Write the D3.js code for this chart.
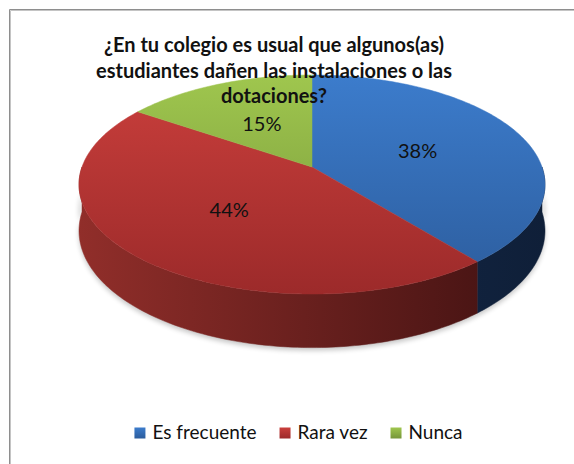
<!DOCTYPE html>
<html>
<head>
<meta charset="utf-8">
<script src="https://cdn.jsdelivr.net/npm/d3@7/dist/d3.min.js"></script>
<style>
  html, body { margin: 0; padding: 0; background: #ffffff; }
  svg { display: block; }
</style>
</head>
<body>
<svg id="chart" width="574" height="464"></svg>
<script>
// Survey answers (percent of students)
const categories = ["Es frecuente", "Rara vez", "Nunca"];
const values = [38, 44, 15];
const titleLines = [
  "¿En tu colegio es usual que algunos(as)",
  "estudiantes dañen las instalaciones o las",
  "dotaciones?"
];

// Colour palette per slice: top face (light, dark), side wall (left, right)
const topColors  = [["#3c7ccc", "#2c5c9c"], ["#ca3f3c", "#9c2a2a"], ["#9fc64e", "#76963a"]];
const sideColors = [["#183058", "#0f1f38"], ["#912e2a", "#3f1111"], ["#6f8a2f", "#4f6420"]];

const svg = d3.select("#chart");
const FONT = "Lato, 'Open Sans', sans-serif";

// Chart frame (only top and left edges fall inside the view)
svg.append("path")
  .attr("d", "M9.5,470V9.5H580")
  .attr("fill", "none").attr("stroke", "#8e8e8e").attr("stroke-width", 1);
svg.append("path")
  .attr("d", "M10.5,470V10.5H580")
  .attr("fill", "none").attr("stroke", "#c4c4c4").attr("stroke-width", 1);

// Perspective view of a tilted disc: unit-disc point -> screen
const cx = 312, cy = 167, A = 230, B = 106.7, k = 0.16, depth = 45;
function proj(theta, r, drop) {
  const X = r * Math.sin(theta), Z = r * Math.cos(theta);
  const w = 1 + k * Z;
  return [cx + A * X / w, cy - B * Z / w + (drop || 0) / w];
}

const pie = d3.pie().sort(null).value(d => d)
  .startAngle(0).endAngle(2 * Math.PI);
const arcs = pie(values);

const defs = svg.append("defs");

// gradients
arcs.forEach((a, i) => {
  const gt = defs.append("linearGradient").attr("id", "top" + i)
    .attr("gradientUnits", "userSpaceOnUse")
    .attr("x1", 0).attr("y1", 75).attr("x2", 0).attr("y2", 295);
  gt.append("stop").attr("offset", 0).attr("stop-color", topColors[i][0]);
  gt.append("stop").attr("offset", 1).attr("stop-color", topColors[i][1]);

  const gs = defs.append("linearGradient").attr("id", "side" + i)
    .attr("gradientUnits", "userSpaceOnUse")
    .attr("x1", 78).attr("y1", 0).attr("x2", 546).attr("y2", 0);
  gs.append("stop").attr("offset", 0).attr("stop-color", sideColors[i][0]);
  gs.append("stop").attr("offset", 1).attr("stop-color", sideColors[i][1]);

  const gl = defs.append("linearGradient").attr("id", "leg" + i)
    .attr("x1", 0).attr("y1", 0).attr("x2", 0).attr("y2", 1);
  gl.append("stop").attr("offset", 0).attr("stop-color", topColors[i][0]);
  gl.append("stop").attr("offset", 1).attr("stop-color", topColors[i][1]);
});

const blur = defs.append("filter").attr("id", "soft")
  .attr("x", "-10%").attr("y", "-10%").attr("width", "120%").attr("height", "130%");
blur.append("feGaussianBlur").attr("stdDeviation", 2.5);

function sampleAngles(a0, a1) {
  const n = Math.max(2, Math.ceil((a1 - a0) / (Math.PI / 180)));
  return d3.range(n + 1).map(j => a0 + (a1 - a0) * j / n);
}

// soft shadow under the disc
const shadowPts = sampleAngles(Math.PI / 2, 3 * Math.PI / 2).map(t => {
  const p = proj(t, 1, depth);
  return [p[0], p[1] + 3];
});
const shadowTop = sampleAngles(Math.PI / 2, 3 * Math.PI / 2).reverse().map(t => proj(t, 1, depth - 20));
svg.append("path")
  .attr("d", d3.line()(shadowPts.concat(shadowTop)) + "Z")
  .attr("fill", "#000").attr("opacity", 0.22)
  .attr("filter", "url(#soft)");

// side walls (front half only)
const g = svg.append("g");
arcs.forEach((a, i) => {
  const lo = Math.max(a.startAngle, Math.PI / 2);
  const hi = Math.min(a.endAngle, 3 * Math.PI / 2);
  if (hi <= lo) return;
  const ts = sampleAngles(lo, hi);
  const top = ts.map(t => proj(t, 1, 0));
  const bot = ts.slice().reverse().map(t => proj(t, 1, depth));
  g.append("path")
    .attr("d", d3.line()(top.concat(bot)) + "Z")
    .attr("fill", `url(#side${i})`)
    .attr("stroke", `url(#side${i})`).attr("stroke-width", 0.5);
});

// top faces
arcs.forEach((a, i) => {
  const pts = [proj(0, 0, 0)].concat(sampleAngles(a.startAngle, a.endAngle).map(t => proj(t, 1, 0)));
  g.append("path")
    .attr("d", d3.line()(pts) + "Z")
    .attr("fill", `url(#top${i})`)
    .attr("stroke", `url(#top${i})`).attr("stroke-width", 0.5);
});

// value labels
arcs.forEach((a, i) => {
  const p = proj((a.startAngle + a.endAngle) / 2, 0.5, 0);
  svg.append("text")
    .attr("x", p[0]).attr("y", p[1])
    .attr("text-anchor", "middle").attr("dominant-baseline", "central")
    .attr("font-family", FONT)
    .attr("font-size", 20).attr("fill", "#111")
    .text(values[i] + "%");
});

// title
titleLines.forEach((line, j) => {
  svg.append("text")
    .attr("x", 274).attr("y", 52 + j * 25.5)
    .attr("text-anchor", "middle")
    .attr("font-family", FONT)
    .attr("font-weight", "bold").attr("font-size", 20).attr("fill", "#111")
    .text(line);
});

// legend
const legend = svg.append("g");
let lx = 0;
categories.forEach((c, i) => {
  const it = legend.append("g");
  it.append("rect").attr("x", 0).attr("y", -11.5).attr("width", 11).attr("height", 11)
    .attr("fill", `url(#leg${i})`);
  const t = it.append("text").attr("x", 18).attr("y", 0)
    .attr("font-family", FONT)
    .attr("font-size", 19).attr("fill", "#111").text(c);
  const w = 18 + t.node().getComputedTextLength();
  it.attr("transform", `translate(${lx},0)`);
  lx += w + 23;
});
const legW = lx - 23;
legend.attr("transform", `translate(${298.5 - legW / 2},439)`);
</script>
</body>
</html>
